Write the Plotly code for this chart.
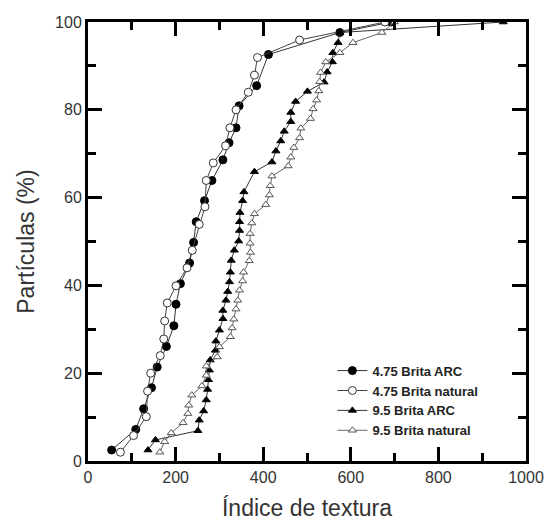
import plotly.graph_objects as go

# Cumulative particle distribution vs. texture index
arc475_x = [54, 109, 127, 145, 158, 179, 196, 201, 211, 232, 241, 247, 266, 283, 308, 322, 338, 345, 385, 412, 575, 692]
arc475_y = [2.5, 7.2, 11.9, 16.7, 21.4, 26.1, 30.8, 35.7, 40.4, 45.1, 49.8, 54.5, 59.3, 63.9, 68.6, 72.5, 75.9, 80.9, 85.5, 92.6, 97.6, 100]

nat475_x = [74, 104, 133, 136, 143, 165, 173, 175, 181, 201, 226, 238, 254, 267, 270, 286, 314, 324, 338, 366, 380, 387, 483, 678]
nat475_y = [2.0, 5.8, 10.1, 15.9, 20.0, 24.0, 27.8, 31.9, 36.0, 39.9, 44.0, 48.0, 53.9, 57.9, 63.9, 67.9, 71.8, 75.9, 80.0, 84.0, 87.9, 91.9, 95.9, 100]

arc95_x = [137, 154, 251, 254, 264, 270, 273, 275, 277, 279, 291, 292, 300, 308, 308, 315, 319, 323, 325, 327, 334, 344,
           346, 346, 347, 353, 356, 380, 420, 429, 440, 448, 463, 463, 474, 501, 539, 546, 558, 559, 571, 575, 948]
arc95_y = [2.5, 4.8, 6.9, 9.3, 11.4, 13.9, 16.3, 18.5, 20.7, 23.0, 25.2, 27.3, 29.8, 32.4, 34.3, 36.6, 38.6, 40.8, 43.0, 45.7, 48.0, 50.1,
           52.5, 54.5, 56.6, 59.3, 61.3, 65.9, 68.1, 70.6, 72.9, 75.1, 77.3, 79.4, 81.9, 84.2, 86.3, 88.6, 90.9, 93.0, 95.3, 97.6, 100]

nat95_x = [164, 175, 190, 217, 228, 230, 237, 260, 270, 270, 295, 300, 325, 329, 333, 338, 342, 346, 353, 355, 368, 371, 370,
           370, 374, 380, 406, 414, 416, 420, 457, 463, 470, 483, 486, 508, 514, 522, 527, 529, 531, 543, 575, 605, 671, 700]
nat95_y = [2.0, 4.4, 6.4, 8.7, 10.8, 12.7, 15.0, 17.1, 19.5, 21.6, 23.7, 26.0, 28.3, 30.3, 32.3, 34.6, 36.6, 38.9, 41.0, 43.0, 45.6, 47.5, 49.6,
           51.8, 54.2, 56.3, 58.4, 60.6, 62.7, 64.9, 67.2, 69.2, 71.4, 73.6, 75.8, 78.0, 80.2, 82.2, 84.3, 86.4, 88.5, 90.9, 93.0, 95.3, 97.6, 100]

x_range = [0, 1000]
y_range = [0, 100]

series = [
    ("4.75 Brita ARC", arc475_x, arc475_y, "circle", "#000000", "#000000", "#333333", 8),
    ("4.75 Brita natural", nat475_x, nat475_y, "circle", "#ffffff", "#333333", "#444444", 8),
    ("9.5 Brita ARC", arc95_x, arc95_y, "triangle-up", "#000000", "#000000", "#333333", 7),
    ("9.5 Brita natural", nat95_x, nat95_y, "triangle-up", "#ffffff", "#555555", "#666666", 7),
]

fig = go.Figure()
for name, xs, ys, sym, fill, edge, lc, sz in series:
    fig.add_trace(go.Scatter(
        x=xs, y=ys, name="<b>" + name + "</b>", mode="lines+markers",
        line=dict(color=lc, width=1),
        marker=dict(symbol=sym, size=sz, color=fill, line=dict(color=edge, width=1)),
    ))

# empty traces that anchor the tick-only overlay axes
for xa, ya in (("x2", "y2"), ("x3", "y3")):
    fig.add_trace(go.Scatter(x=[], y=[], xaxis=xa, yaxis=ya, showlegend=False, hoverinfo="skip"))

font_family = "Arial"
frame = dict(showline=True, linewidth=3, linecolor="black", showgrid=False, zeroline=False, automargin=False)

def tick_axis(rng, step, length):
    # tick marks only, drawn inside on both sides of the frame
    return dict(range=rng, dtick=step, tick0=0, ticks="inside", ticklen=length, tickwidth=3,
                tickcolor="black", mirror="ticks", showticklabels=False, fixedrange=True, **frame)

fig.update_layout(
    xaxis=dict(
        range=x_range, dtick=200, ticks="", mirror=True, fixedrange=True,
        ticklabeloverflow="allow",
        tickfont=dict(family=font_family, size=16, color="#333333"),
        title=dict(text="Índice de textura", font=dict(family=font_family, size=23, color="#333333")),
        **frame,
    ),
    yaxis=dict(
        range=y_range, dtick=20, ticks="", mirror=True, fixedrange=True,
        tickfont=dict(family=font_family, size=16, color="#333333"),
        title=dict(text="Partículas (%)", font=dict(family=font_family, size=23, color="#333333")),
        **frame,
    ),
    xaxis2=dict(overlaying="x", anchor="y2", **tick_axis(x_range, 200, 14)),
    yaxis2=dict(overlaying="y", anchor="x2", **tick_axis(y_range, 20, 14)),
    xaxis3=dict(overlaying="x", anchor="y3", **tick_axis(x_range, 100, 8)),
    yaxis3=dict(overlaying="y", anchor="x3", **tick_axis(y_range, 10, 8)),
    width=545, height=523,
    margin=dict(l=88, r=19, t=22, b=62),
    plot_bgcolor="white",
    legend=dict(
        x=0.558, y=0.24, xanchor="left", yanchor="top",
        bgcolor="rgba(0,0,0,0)",
        font=dict(family=font_family, size=13, color="#222222"),
        tracegroupgap=0, itemwidth=30,
    ),
)

fig.write_html("out.html")
